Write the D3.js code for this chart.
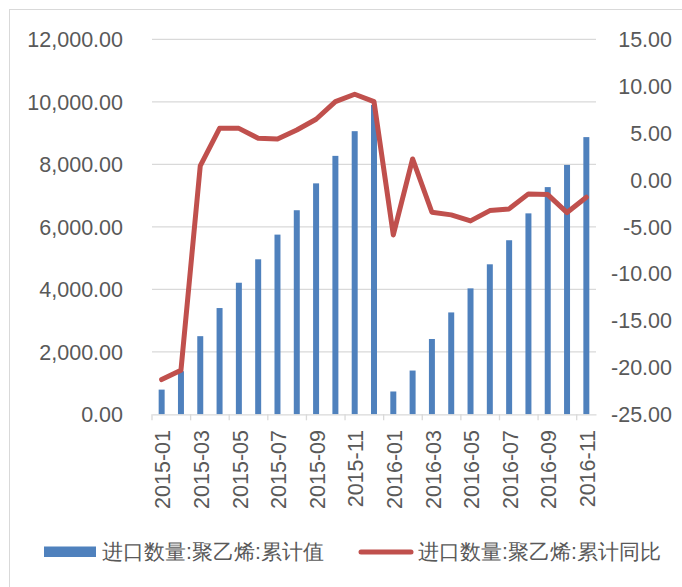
<!DOCTYPE html>
<html>
<head>
<meta charset="utf-8">
<script src="https://cdn.jsdelivr.net/npm/d3@7"></script>
<style>
  body { margin: 0; background: #fff; }
  text { font-family: "Liberation Sans", Arial, sans-serif; fill: #595959; }
</style>
</head>
<body>
<script>
// data
var months = ["2015-01","2015-02","2015-03","2015-04","2015-05","2015-06","2015-07","2015-08",
  "2015-09","2015-10","2015-11","2015-12","2016-01","2016-02","2016-03","2016-04","2016-05",
  "2016-06","2016-07","2016-08","2016-09","2016-10","2016-11"];
var cumValue = [790, 1380, 2500, 3400, 4210, 4960, 5750, 6530, 7390, 8270, 9060, 9900,
  730, 1400, 2410, 3260, 4030, 4800, 5570, 6430, 7270, 7980, 8870];
var cumYoY = [-21.3, -20.3, 1.5, 5.5, 5.5, 4.45, 4.37, 5.33, 6.47, 8.35, 9.14, 8.35,
  -5.87, 2.24, -3.45, -3.73, -4.37, -3.27, -3.09, -1.49, -1.56, -3.48, -1.85];
var leftTicks = [0, 2000, 4000, 6000, 8000, 10000, 12000];
var rightTicks = [-25, -20, -15, -10, -5, 0, 5, 10, 15];
var seriesNames = ["进口数量:聚乙烯:累计值", "进口数量:聚乙烯:累计同比"];

var svgWidth = 682, svgHeight = 587;
var plotLeft = 152, plotRight = 596, plotTop = 39.3, plotBottom = 414.3;

var svg = d3.select("body").append("svg")
    .attr("width", svgWidth)
    .attr("height", svgHeight);

// chart frame
svg.append("rect")
    .attr("x", 9.5).attr("y", 9.5)
    .attr("width", 700).attr("height", 700)
    .attr("fill", "none")
    .attr("stroke", "#d9d9d9");

var xScale = d3.scaleBand()
    .domain(months)
    .range([plotLeft, plotRight]);
var yLeft = d3.scaleLinear().domain([0, 12000]).range([plotBottom, plotTop]);
var yRight = d3.scaleLinear().domain([-25, 15]).range([plotBottom, plotTop]);

// gridlines
svg.append("g").selectAll("line")
    .data(leftTicks.slice(1))
    .enter().append("line")
    .attr("x1", plotLeft).attr("x2", plotRight)
    .attr("y1", d => yLeft(d)).attr("y2", d => yLeft(d))
    .attr("stroke", "#d9d9d9")
    .attr("stroke-width", 1.3);

// left axis labels
var fmtLeft = d3.format(",.2f");
svg.append("g").selectAll("text")
    .data(leftTicks)
    .enter().append("text")
    .attr("x", 123)
    .attr("y", d => yLeft(d))
    .attr("dy", "0.36em")
    .attr("text-anchor", "end")
    .attr("font-size", "21.5px")
    .text(d => fmtLeft(d));

// right axis labels
var fmtRight = d3.format(".2f");
svg.append("g").selectAll("text")
    .data(rightTicks)
    .enter().append("text")
    .attr("x", 672)
    .attr("y", d => yRight(d))
    .attr("dy", "0.36em")
    .attr("text-anchor", "end")
    .attr("font-size", "21.5px")
    .text(d => fmtRight(d).replace("−", "-"));

// bars
var barW = xScale.bandwidth() * 0.31;
svg.append("g").selectAll("rect")
    .data(cumValue)
    .enter().append("rect")
    .attr("x", (d, i) => xScale(months[i]) + xScale.bandwidth() / 2 - barW / 2)
    .attr("y", d => yLeft(d))
    .attr("width", barW)
    .attr("height", d => yLeft(0) - yLeft(d))
    .attr("fill", "#4f81bd");

// bottom axis line
var xAxis = d3.axisBottom(xScale)
    .tickValues(months.filter((m, i) => i % 2 == 0))
    .tickSize(0)
    .tickFormat("");
var axisG = svg.append("g")
    .attr("transform", `translate(0, ${plotBottom})`)
    .call(xAxis);
axisG.select(".domain").attr("stroke", "#d9d9d9").attr("stroke-width", 1.3);

// tick marks every second month, on the band edge
svg.append("g").selectAll("line")
    .data(months.filter((m, i) => i % 2 == 0))
    .enter().append("line")
    .attr("x1", d => xScale(d)).attr("x2", d => xScale(d))
    .attr("y1", plotBottom).attr("y2", plotBottom + 6)
    .attr("stroke", "#d9d9d9")
    .attr("stroke-width", 1.3);

// x labels, rotated
svg.append("g").selectAll("text")
    .data(months.filter((m, i) => i % 2 == 0))
    .enter().append("text")
    .attr("transform", d => `translate(${xScale(d) + xScale.bandwidth() / 2 + 1}, 430) rotate(-90)`)
    .attr("dy", "0.36em")
    .attr("text-anchor", "end")
    .attr("font-size", "21.5px")
    .text(d => d);

// line
var line = d3.line()
    .x((d, i) => xScale(months[i]) + xScale.bandwidth() / 2)
    .y(d => yRight(d));
svg.append("path")
    .datum(cumYoY)
    .attr("d", line)
    .attr("fill", "none")
    .attr("stroke", "#c0504d")
    .attr("stroke-width", 5)
    .attr("stroke-linejoin", "round")
    .attr("stroke-linecap", "round");

// legend
var legend = svg.append("g");
legend.append("rect")
    .attr("x", 44).attr("y", 546.5)
    .attr("width", 52).attr("height", 10.5)
    .attr("fill", "#4f81bd");
legend.append("text")
    .attr("x", 102).attr("y", 559)
    .attr("font-family", "'Noto Sans CJK SC', sans-serif")
    .attr("font-size", "21.3px")
    .text(seriesNames[0]);
legend.append("line")
    .attr("x1", 361).attr("x2", 411)
    .attr("y1", 552).attr("y2", 552)
    .attr("stroke", "#c0504d")
    .attr("stroke-width", 5)
    .attr("stroke-linecap", "round");
legend.append("text")
    .attr("x", 418).attr("y", 559)
    .attr("font-family", "'Noto Sans CJK SC', sans-serif")
    .attr("font-size", "21.3px")
    .text(seriesNames[1]);
</script>
</body>
</html>
